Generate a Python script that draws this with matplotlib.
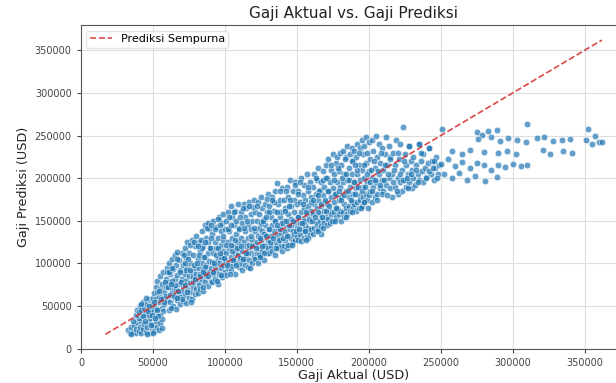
import matplotlib
matplotlib.use("Agg")
import matplotlib.pyplot as plt
import numpy as np

# values in thousands of USD: (actual, predicted)
cluster_bawah = [
    (33,22),(34,19),(35,25),(36,20),(37,28),(38,18),(38,23),(39,31),(40,21),(41,26),(42,18),(42,33),
    (43,23),(44,29),(45,20),(46,25),(47,31),(48,19),(49,24),(50,28),(51,21),(52,33),(53,26),(54,22),
    (55,30),(36,33),(40,36),(44,38),(48,36),(52,39),(35,17),(46,17),(50,18),(56,24),
    (38,40),(39,46),(40,43),(41,50),(42,45),(43,55),(44,48),(45,42),(46,52),(47,58),(48,46),(49,53),
    (50,60),(45,60),(42,53),(50,44),(47,40),(43,39),
]
pita_awal = [
    (51,50),(51,65),(52,58),(52,72),(53,47),(53,80),(54,62),(54,55),(55,70),(55,85),(56,48),(56,76),
    (57,60),(57,90),(58,67),(58,52),(59,82),(59,73),(60,57),(60,95),(57,44),(55,40),(53,66),(59,62),
    (61,45),(61,78),(61,100),(62,55),(62,88),(63,67),(63,105),(64,50),(64,72),(64,93),(65,60),(65,82),
    (65,110),(66,47),(66,70),(66,98),(67,57),(67,86),(68,64),(68,76),(68,104),(69,52),(69,92),(70,68),
    (70,82),(70,112),(62,63),(67,113),(63,80),(69,61),
    (71,56),(71,75),(71,98),(72,63),(72,88),(72,118),(73,54),(73,80),(73,106),(74,70),(74,95),(74,125),
    (75,60),(75,85),(75,112),(76,66),(76,77),(76,100),(77,58),(77,90),(77,128),(78,72),(78,84),(78,110),
    (79,64),(79,95),(79,120),(80,70),(80,88),(80,132),(76,122),(73,92),
    (81,65),(81,80),(81,105),(82,75),(82,95),(82,125),(83,70),(83,88),(83,115),(84,82),(84,100),(84,138),
    (85,68),(85,92),(85,120),(86,78),(86,108),(86,145),(87,85),(87,98),(87,130),(88,74),(88,112),(88,125),
    (89,90),(89,103),(89,140),(90,80),(90,95),(90,118),(86,88),(88,148),(84,118),(82,110),
    (91,78),(91,102),(91,135),(92,88),(92,112),(92,150),(93,82),(93,97),(93,125),(94,92),(94,118),(94,143),
    (95,76),(95,105),(95,130),(96,88),(96,100),(96,155),(97,95),(97,122),(97,138),(98,84),(98,110),(98,148),
    (99,98),(99,128),(99,158),(100,90),(100,104),(100,140),(97,108),(93,140),(95,152),(99,115),
]
pita_tengah = [
    (101,86),(101,112),(101,150),(102,95),(102,125),(102,160),(103,100),(103,118),(103,138),(104,92),
    (104,108),(104,168),(105,97),(105,130),(105,155),(106,104),(106,120),(106,145),(107,88),(107,112),
    (107,162),(108,100),(108,135),(108,150),(109,110),(109,125),(109,170),(110,96),(110,118),(110,142),
    (105,115),(107,128),(103,155),
    (111,100),(111,130),(111,160),(112,92),(112,115),(112,148),(113,105),(113,125),(113,170),(114,98),
    (114,138),(114,155),(115,110),(115,120),(115,165),(116,96),(116,130),(116,145),(117,104),(117,118),
    (117,172),(118,112),(118,140),(118,158),(119,100),(119,128),(119,150),(120,108),(120,122),(120,175),
    (116,112),(118,132),
    (121,105),(121,138),(121,160),(122,112),(122,125),(122,150),(123,100),(123,132),(123,172),(124,118),
    (124,142),(124,158),(125,108),(125,128),(125,178),(126,115),(126,138),(126,165),(127,104),(127,122),
    (127,152),(128,120),(128,145),(128,170),(129,112),(129,132),(129,160),(130,118),(130,128),(130,182),
    (125,148),(127,135),
    (131,112),(131,140),(131,168),(132,120),(132,132),(132,155),(133,115),(133,145),(133,178),(134,125),
    (134,138),(134,162),(135,110),(135,150),(135,185),(136,122),(136,134),(136,194),(137,118),(137,142),
    (137,170),(138,128),(138,155),(138,175),(139,120),(139,136),(139,160),(140,115),(140,146),(140,188),
    (134,172),(138,140),
    (141,120),(141,150),(141,175),(142,128),(142,138),(142,165),(143,118),(143,145),(143,190),(144,132),
    (144,158),(144,178),(145,122),(145,140),(145,198),(146,130),(146,152),(146,168),(147,125),(147,138),
    (147,185),(148,135),(148,160),(148,175),(149,128),(149,148),(149,195),(150,132),(150,142),(150,170),
    (146,145),(144,122),
]
pita_atas = [
    (151,128),(151,155),(151,185),(152,135),(152,148),(152,172),(153,126),(153,160),(153,200),(154,140),
    (154,152),(154,180),(155,130),(155,165),(155,192),(156,138),(156,145),(156,175),(157,132),(157,158),
    (157,205),(158,142),(158,168),(158,185),(159,136),(159,150),(159,195),(160,140),(160,162),(160,178),
    (155,150),(158,130),
    (161,135),(161,158),(161,190),(162,142),(162,170),(162,205),(163,138),(163,150),(163,182),(164,146),
    (164,165),(164,198),(165,140),(165,175),(165,212),(166,150),(166,158),(166,186),(167,144),(167,168),
    (167,195),(168,152),(168,180),(168,208),(169,148),(169,162),(169,190),(170,155),(170,172),(170,215),
    (165,160),(167,135),
    (171,145),(171,170),(171,200),(172,152),(172,185),(172,222),(173,148),(173,162),(173,195),(174,158),
    (174,178),(174,210),(175,150),(175,188),(175,228),(176,160),(176,172),(176,205),(177,155),(177,182),
    (177,218),(178,165),(178,195),(178,225),(179,158),(179,175),(179,208),(180,162),(180,190),(180,230),
    (181,150),(181,178),(181,215),(182,160),(182,195),(182,232),(183,155),(183,170),(183,205),(184,165),
    (184,185),(184,225),(185,158),(185,198),(185,238),(186,168),(186,178),(186,212),(187,162),(187,190),
    (187,228),(188,172),(188,205),(188,235),(189,165),(189,182),(189,220),(190,170),(190,195),(190,232),
    (191,162),(191,188),(191,225),(192,172),(192,205),(192,240),(193,165),(193,180),(193,215),(194,175),
    (194,198),(194,235),(195,168),(195,210),(195,245),(196,178),(196,190),(196,228),(197,172),(197,200),
    (197,238),(198,182),(198,218),(198,248),(199,175),(199,195),(199,230),(200,180),(200,208),(200,242),
    (201,185),(201,222),(202,172),(202,200),(202,245),(203,190),(203,232),(204,178),(204,212),(205,195),
    (205,250),(206,182),(206,225),(207,205),(207,240),(208,188),(208,218),(209,198),(209,235),(210,185),
    (210,210),(211,228),(212,192),(212,248),(213,215),(214,200),(214,238),(215,188),(215,225),
    (216,178),(216,205),(217,230),(218,190),(218,215),(219,245),(220,182),(220,200),(221,222),(222,195),
    (222,240),(223,185),(223,210),(224,260),(225,198),(225,228),(226,190),(226,215),(227,205),(228,238),
    (228,195),(229,220),(230,188),(230,210),
    (231,200),(231,225),(232,192),(233,215),(234,205),(235,240),(235,198),(236,220),(237,208),(238,195),
    (238,228),(239,212),(240,202),(241,218),(242,236),(243,205),(244,220),(245,198),(246,212),(247,225),
    (248,205),(249,215),(251,258),
]
pita_tambahan = [
    (44.5,33),(46.5,44),(48.5,28),(50.5,55),(52.5,46),(54.5,68),(56.5,35),(58.5,78),(53.5,38),(57.5,55),
    (59.5,90),(49.5,40),(47.5,50),(55.5,58),(51.5,36),
    (60.5,72),(61.5,90),(62.5,48),(63.5,95),(64.5,62),(65.5,75),(66.5,105),(67.5,68),(68.5,90),(69.5,78),
    (70.5,58),(71.5,110),(72.5,75),(73.5,66),(74.5,105),(75.5,92),(76.5,55),(77.5,78),(78.5,125),(79.5,82),
    (66.5,60),(72.5,100),(78.5,98),(62.5,76),
    (80.5,100),(81.5,120),(82.5,85),(83.5,128),(84.5,72),(85.5,108),(86.5,96),(87.5,142),(88.5,85),(89.5,118),
    (90.5,130),(91.5,90),(92.5,100),(93.5,110),(94.5,80),(95.5,118),(96.5,145),(97.5,86),(98.5,132),(99.5,106),
    (84.5,90),(90.5,145),(96.5,112),(86.5,125),
    (100.5,122),(101.5,98),(102.5,140),(103.5,88),(104.5,122),(105.5,104),(106.5,160),(107.5,98),(108.5,118),
    (109.5,140),(110.5,106),(111.5,120),(112.5,165),(113.5,142),(114.5,112),(115.5,150),(116.5,122),(117.5,95),
    (118.5,120),(119.5,166),(104.5,145),(110.5,155),(116.5,168),(112.5,105),
    (120.5,142),(121.5,118),(122.5,168),(123.5,110),(124.5,130),(125.5,120),(126.5,150),(127.5,112),(128.5,132),
    (129.5,176),(130.5,140),(131.5,125),(132.5,175),(133.5,130),(134.5,150),(135.5,118),(136.5,160),(137.5,128),
    (138.5,185),(139.5,148),(124.5,108),(130.5,160),(136.5,145),(128.5,155),
    (140.5,130),(141.5,162),(142.5,185),(143.5,132),(144.5,145),(145.5,175),(146.5,122),(147.5,150),(148.5,192),
    (149.5,138),(150.5,182),(151.5,140),(152.5,195),(153.5,148),(154.5,170),(155.5,138),(156.5,160),(157.5,190),
    (158.5,152),(159.5,172),(144.5,168),(150.5,155),(156.5,128),(142.5,150),
    (160.5,150),(161.5,175),(162.5,155),(163.5,200),(164.5,138),(165.5,185),(166.5,170),(167.5,155),(168.5,198),
    (169.5,175),(170.5,162),(171.5,185),(172.5,168),(173.5,215),(174.5,150),(175.5,198),(176.5,182),(177.5,165),
    (178.5,212),(179.5,185),(164.5,180),(170.5,200),(176.5,150),(168.5,142),
    (180.5,175),(181.5,200),(182.5,180),(183.5,222),(184.5,155),(185.5,185),(186.5,198),(187.5,175),(188.5,220),
    (189.5,195),(190.5,182),(191.5,210),(192.5,190),(193.5,230),(194.5,165),(195.5,185),(196.5,215),(197.5,190),
    (198.5,205),(199.5,165),(184.5,205),(190.5,215),(196.5,172),(188.5,160),
    (200.5,195),(201.5,210),(202.5,185),(203.5,220),(204.5,198),(205.5,175),(206.5,208),(207.5,192),(208.5,230),
    (209.5,182),(210.5,198),(211.5,215),(212.5,180),(213.5,205),(214.5,222),(216.5,195),(217.5,210),(219.5,185),
    (220.5,230),(221.5,205),(223.5,198),(224.5,220),(226.5,200),(227.5,188),(229.5,205),(232.5,210),(234.5,195),
    (236.5,230),(239.5,200),(241.5,208),(244.5,212),(247.5,200),
]
ekor_kanan = [
    (310,263),(352,258),(275,254),(283,255),(289,256),(279,251),
    (276,246),(285,248),(291,244),(297,247),(303,245),(309,243),(317,247),(322,248),(328,244),(334,245),
    (340,246),(351,245),(355,240),(360,243),(357,249),(362,242),(228,238),(235,240),(242,236),
    (258,232),(265,228),(270,233),(280,231),(290,229),(296,232),(302,228),(321,233),(326,228),(335,232),
    (341,229),(245,220),(250,217),(255,222),(260,214),(265,219),(270,212),(275,218),(280,215),(285,210),
    (290,216),(295,213),(300,217),(306,214),(310,215),(252,205),(258,200),(263,206),(268,198),(274,203),
    (281,197),(289,201),
]

groups = [cluster_bawah, pita_awal, pita_tengah, pita_atas, pita_tambahan, ekor_kanan]
aktual = np.array([p[0] for g in groups for p in g], dtype=float) * 1000
prediksi = np.array([p[1] for g in groups for p in g], dtype=float) * 1000

fig = plt.figure(figsize=(6.16, 3.83), dpi=100)
ax = fig.add_axes([0.1309, 0.0888, 0.8865, 0.845])

ax.scatter(aktual, prediksi, s=22, color="#1f77b4", alpha=0.7,
           edgecolors="white", linewidths=0.5, zorder=2)
lo = min(aktual.min(), prediksi.min())
hi = max(aktual.max(), prediksi.max())
ax.plot([lo, hi], [lo, hi], "--", color="#d62728", lw=1.2, alpha=0.85,
        label="Prediksi Sempurna", zorder=3)

ax.grid(True, color="#dddddd", lw=0.8, zorder=0)
ax.set_axisbelow(True)
ax.set_title("Gaji Aktual vs. Gaji Prediksi", fontsize=11, color="#222222", pad=5)
ax.set_xlabel("Gaji Aktual (USD)", fontsize=9.2, color="#222222", labelpad=1)
ax.set_ylabel("Gaji Prediksi (USD)", fontsize=9.2, color="#222222", labelpad=3)
ax.tick_params(labelsize=7, length=3, colors="#444444")
ax.ticklabel_format(style="plain", useOffset=False)
ax.legend(loc="upper left", fontsize=8, frameon=True, framealpha=0.8, edgecolor="#dddddd",
          borderpad=0.3, handlelength=2.0)
for s in ax.spines.values():
    s.set_color("#555555")

fig.savefig("out.png", dpi=100)
